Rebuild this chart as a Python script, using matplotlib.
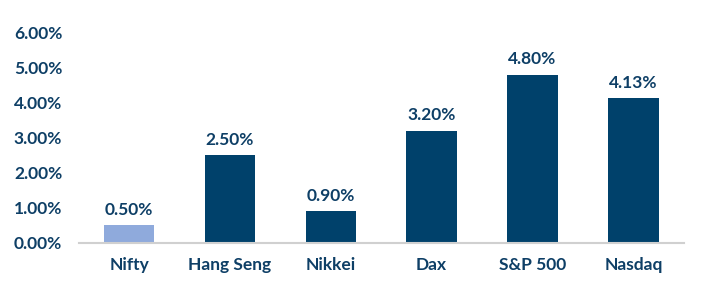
import matplotlib.pyplot as plt
from matplotlib.ticker import FuncFormatter

indices = ['Nifty', 'Hang Seng', 'Nikkei', 'Dax', 'S&P 500', 'Nasdaq']
returns = [0.50, 2.50, 0.90, 3.20, 4.80, 4.13]
colors = ['#8FAADC', '#00416B', '#00416B', '#00416B', '#00416B', '#00416B']

txt = '#0E3F66'
plt.rcParams['font.family'] = ['Lato', 'DejaVu Sans']

fig = plt.figure(figsize=(7.1, 2.97), dpi=100)
ax = fig.add_axes([0.111, 0.182, 0.852, 0.707])

bars = ax.bar(range(len(indices)), returns, width=0.5, color=colors)
for b, v in zip(bars, returns):
    ax.text(b.get_x() + b.get_width() / 2, v + 0.22, f'{v:.2f}%',
            ha='center', va='bottom', fontsize=12.5, fontweight='bold', color=txt)

ax.set_ylim(0, 6)
ax.set_xlim(-0.5, len(indices) - 0.5)
ax.set_yticks(range(7))
ax.yaxis.set_major_formatter(FuncFormatter(lambda v, p: f'{v:.2f}%'))
ax.set_xticks(range(len(indices)))
ax.set_xticklabels(indices)

for s in ['top', 'right', 'left']:
    ax.spines[s].set_visible(False)
ax.spines['bottom'].set_color('#D0D0D0')
ax.spines['bottom'].set_linewidth(1.5)
ax.tick_params(axis='both', length=0, labelsize=12.5, labelcolor=txt)
ax.tick_params(axis='y', pad=12)
ax.tick_params(axis='x', pad=10)
for lbl in ax.get_xticklabels() + ax.get_yticklabels():
    lbl.set_fontweight('bold')

plt.savefig('out.png', dpi=100)
